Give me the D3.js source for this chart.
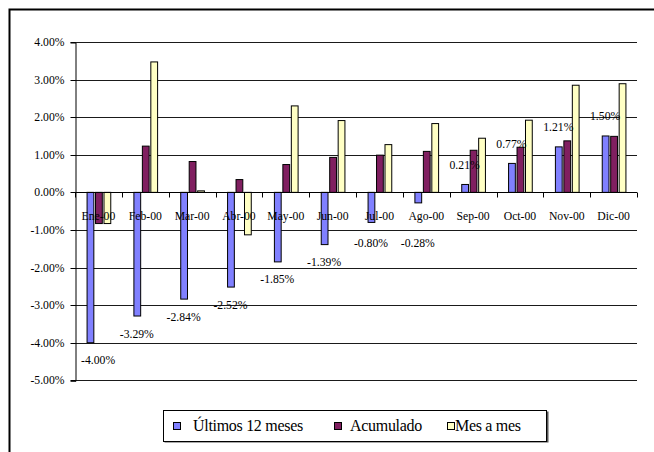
<!DOCTYPE html>
<html>
<head>
<meta charset="utf-8">
<script src="https://cdn.jsdelivr.net/npm/d3@7"></script>
<style>
  html, body { margin: 0; padding: 0; background: #fff; }
  svg { display: block; }
  svg text { font-family: "Liberation Serif", "Times New Roman", Times, serif; fill: #000; }
</style>
</head>
<body>
<script>
// Monthly inflation figures for the year 2000
const months = ["Ene-00", "Feb-00", "Mar-00", "Abr-00", "May-00", "Jun-00",
                "Jul-00", "Ago-00", "Sep-00", "Oct-00", "Nov-00", "Dic-00"];
const ultimos12 = [-4.00, -3.29, -2.84, -2.52, -1.85, -1.39, -0.80, -0.28, 0.21, 0.77, 1.21, 1.50];
const acumulado = [-0.83, 1.23, 0.82, 0.34, 0.74, 0.93, 0.99, 1.09, 1.12, 1.20, 1.37, 1.49];
const mesAMes   = [-0.83, 3.47, 0.04, -1.13, 2.30, 1.91, 1.27, 1.83, 1.44, 1.92, 2.85, 2.89];
const seriesNames = ["Últimos 12 meses", "Acumulado", "Mes a mes"];
const seriesColors = ["#8080ff", "#801f60", "#ffffc4"];
const yTicks = [4, 3, 2, 1, 0, -1, -2, -3, -4, -5];

const W = 654, H = 452;
const SQUEEZE = 0.9;      // narrow face used for axis and value labels
const svg = d3.select("body").append("svg").attr("width", W).attr("height", H);

// chart frame
svg.append("rect").attr("x", 9.5).attr("y", 9.5).attr("width", W + 20).attr("height", H + 20)
  .attr("fill", "#fff").attr("stroke", "#000").attr("stroke-width", 2);

const plot = { left: 75, right: 637, top: 42, bottom: 380.3 };

const y = d3.scaleLinear().domain([-5, 4]).range([plot.bottom, plot.top]);
const x0 = d3.scaleBand().domain(months).range([plot.left, plot.right])
  .paddingInner(0.494).paddingOuter(0.247);
const x1 = d3.scaleBand().domain(seriesNames).range([0, x0.bandwidth()])
  .paddingInner(0.2).paddingOuter(0);

const fmt = v => v.toFixed(2) + "%";

// gridlines
svg.append("g").selectAll("line").data(yTicks).join("line")
  .attr("x1", plot.left).attr("x2", plot.right)
  .attr("y1", d => Math.round(y(d)) + 0.5).attr("y2", d => Math.round(y(d)) + 0.5)
  .attr("stroke", "#1a1a1a").attr("stroke-width", 1);

// value axis
const yAxis = d3.axisLeft(y).tickValues(yTicks).tickSize(5).tickPadding(6).tickFormat(fmt);
const gy = svg.append("g").attr("transform", `translate(${plot.left + 0.5},0.5)`).call(yAxis)
  .attr("font-family", null).attr("font-size", 13);
gy.select(".domain").attr("stroke", "#000");
gy.selectAll(".tick line").attr("stroke", "#000");
gy.selectAll(".tick").attr("transform", d => `translate(0,${Math.round(y(d))})`);
gy.selectAll(".tick text").attr("fill", "#000")
  .attr("x", 0).attr("dy", "0.3em")
  .attr("transform", `translate(-11,0) scale(${SQUEEZE},1)`);

// bars
const rows = months.map((m, i) => ({ month: m, values: [ultimos12[i], acumulado[i], mesAMes[i]] }));
const groups = svg.append("g").selectAll("g").data(rows).join("g")
  .attr("transform", d => `translate(${x0(d.month)},0)`);
groups.selectAll("rect").data(d => d.values.map((v, k) => ({ v, k })))
  .join("rect")
  .attr("x", d => x1(seriesNames[d.k]) + 0.5)
  .attr("width", x1.bandwidth())
  .attr("y", d => y(Math.max(0, d.v)))
  .attr("height", d => Math.abs(y(d.v) - y(0)))
  .attr("fill", d => seriesColors[d.k])
  .attr("stroke", "#000").attr("stroke-width", 1);

// category axis line and boundary ticks
const y0 = Math.round(y(0)) + 0.5;
svg.append("line").attr("x1", plot.left).attr("x2", plot.right)
  .attr("y1", y0).attr("y2", y0).attr("stroke", "#000");
svg.append("g").selectAll("line").data(d3.range(months.length + 1)).join("line")
  .attr("x1", i => Math.round(plot.left + i * x0.step()) + 0.5)
  .attr("x2", i => Math.round(plot.left + i * x0.step()) + 0.5)
  .attr("y1", y0).attr("y2", y0 + 5).attr("stroke", "#000");

// category labels
const catLabelY = y(0) + 28;
svg.append("g").selectAll("text").data(months).join("text")
  .attr("transform", d => `translate(${x0(d) + x0.bandwidth() / 2},${catLabelY}) scale(${SQUEEZE},1)`)
  .attr("text-anchor", "middle")
  .attr("font-size", 13)
  .text(d => d);

// value labels on the 12-month series, kept clear of the value axis
svg.append("g").selectAll("text").data(rows).join("text")
  .attr("text-anchor", "middle")
  .attr("font-size", 13)
  .text(d => fmt(d.values[0]))
  .attr("transform", function(d) {
    const v = d.values[0];
    const half = this.getComputedTextLength() * SQUEEZE / 2;
    let cx = x0(d.month) + x1(seriesNames[0]) + x1.bandwidth() / 2;
    cx = Math.max(cx, plot.left + 6 + half);
    const cy = v >= 0 ? y(v) - 20 : Math.max(y(v) + 17, catLabelY + 22);
    return `translate(${cx},${cy + 4.5}) scale(${SQUEEZE},1)`;
  });

// legend
const lg = svg.append("g").attr("transform", "translate(163,410)");
lg.append("rect").attr("x", 1.5).attr("y", 1.5).attr("width", 384).attr("height", 31)
  .attr("fill", "#555");
lg.append("rect").attr("x", 0.5).attr("y", 0.5).attr("width", 383).attr("height", 31)
  .attr("fill", "#fff").attr("stroke", "#000");
const itemX = [10, 171, 284];
const textX = [30, 187, 292];
seriesNames.forEach((name, k) => {
  lg.append("rect").attr("x", itemX[k] + 0.5).attr("y", 12.5).attr("width", 7).attr("height", 7)
    .attr("fill", seriesColors[k]).attr("stroke", "#000");
  lg.append("text").attr("x", textX[k]).attr("y", 21)
    .attr("font-size", 16).attr("letter-spacing", -0.3)
    .text(name);
});
</script>
</body>
</html>
